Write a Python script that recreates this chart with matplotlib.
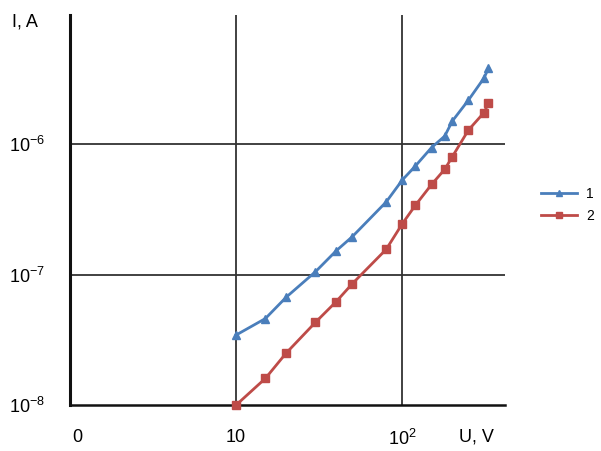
import matplotlib
matplotlib.use("Agg")
import matplotlib.pyplot as plt
import matplotlib.transforms as mtransforms

plt.rcParams['font.family'] = ['Liberation Sans', 'DejaVu Sans']
plt.rcParams['mathtext.fontset'] = 'custom'
plt.rcParams['mathtext.rm'] = 'Liberation Sans'

voltage = [10, 15, 20, 30, 40, 50, 80, 100, 120, 150, 180, 200, 250, 310, 330]
current_1 = [3.44e-8, 4.6e-8, 6.7e-8, 1.05e-7, 1.52e-7, 1.95e-7, 3.6e-7, 5.3e-7,
             6.8e-7, 9.4e-7, 1.15e-6, 1.5e-6, 2.17e-6, 3.2e-6, 3.8e-6]
current_2 = [1.0e-8, 1.6e-8, 2.5e-8, 4.3e-8, 6.2e-8, 8.5e-8, 1.56e-7, 2.45e-7,
             3.4e-7, 4.9e-7, 6.4e-7, 8.0e-7, 1.28e-6, 1.74e-6, 2.05e-6]
series_labels = ['1', '2']
x_ticks = [1, 10, 100]
x_tick_labels = ['0', '10', r'$\mathregular{10^{2}}$']
y_ticks = [1e-8, 1e-7, 1e-6]
y_tick_labels = [r'$\mathregular{10^{-8}}$', r'$\mathregular{10^{-7}}$', r'$\mathregular{10^{-6}}$']

fig = plt.figure(figsize=(6.01, 4.51), dpi=100)
ax = fig.add_axes([70/601, 1-405/451, (505-70)/601, (405-15)/451])
ax.set_xscale('log')
ax.set_yscale('log')
ax.set_xlim(1, 415)
ax.set_ylim(1e-8, 9.75e-6)

ax.plot(voltage, current_1, color='#4a7ebb', lw=2.0, marker='^', ms=6,
        label=series_labels[0], clip_on=False, zorder=3)
ax.plot(voltage, current_2, color='#be4b48', lw=2.0, marker='s', ms=6,
        label=series_labels[1], clip_on=False, zorder=3)

ax.set_xticks(x_ticks)
ax.set_xticklabels(x_tick_labels)
ax.set_yticks(y_ticks)
ax.set_yticklabels(y_tick_labels)
ax.minorticks_off()
ax.tick_params(axis='both', length=0, labelsize=13)
ax.tick_params(axis='x', pad=17)
ax.tick_params(axis='y', pad=18)
labels = ax.get_xticklabels()
offset = mtransforms.ScaledTranslation(7/100, 0, fig.dpi_scale_trans)
labels[0].set_transform(labels[0].get_transform() + offset)

for v in x_ticks[1:]:
    ax.axvline(v, color='#333333', lw=1.3, zorder=1)
for v in y_ticks[1:]:
    ax.axhline(v, color='#333333', lw=1.3, zorder=1)

for s in ['top', 'right']:
    ax.spines[s].set_visible(False)
ax.spines['left'].set_linewidth(2.2)
ax.spines['left'].set_color('#111111')
ax.spines['bottom'].set_linewidth(1.8)
ax.spines['bottom'].set_color('#111111')

trans = mtransforms.blended_transform_factory(ax.transData, fig.transFigure)
ax.text(280, 1-437/451, 'U, V', transform=trans, ha='center', va='center', fontsize=13)
fig.text(25/601, 1-22/451, 'I, A', ha='center', va='center', fontsize=13)

fig.legend(loc='center left', bbox_to_anchor=(528/601, 1-205/451), frameon=False,
           fontsize=10, handlelength=2.6, handletextpad=0.7, labelspacing=0.6,
           markerscale=0.8)

fig.savefig('out.png', dpi=100)
